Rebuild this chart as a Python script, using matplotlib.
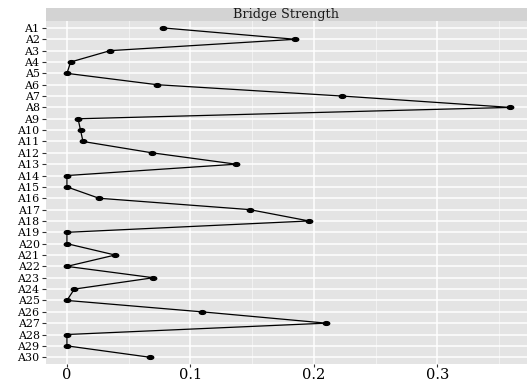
import numpy as np
import matplotlib
matplotlib.use("Agg")
import matplotlib.pyplot as plt
from matplotlib.path import Path
from matplotlib.transforms import Affine2D

labels = ["A%d" % i for i in range(1, 31)]
strength = [0.078, 0.185, 0.035, 0.003, 0.0, 0.073, 0.223, 0.359, 0.009, 0.011,
            0.013, 0.069, 0.137, 0.0, 0.0, 0.026, 0.148, 0.196, 0.0, 0.0,
            0.039, 0.0, 0.070, 0.006, 0.0, 0.109, 0.210, 0.0, 0.0, 0.067]
xticks = [0, 0.1, 0.2, 0.3]
xtick_labels = ["0", "0.1", "0.2", "0.3"]

plt.rcParams['font.family'] = ['DejaVu Serif']

fig = plt.figure(figsize=(5.28, 3.84), dpi=100)
ax = fig.add_axes([0.087, 0.052, 0.911, 0.893])
ax.set_facecolor('#e4e4e4')

ypos = np.arange(len(labels))
dot = Path.unit_circle().transformed(Affine2D().scale(1.7, 1.0))
ax.plot(strength, ypos, color='black', lw=0.9, marker=dot, ms=4.6, zorder=3)

ax.set_xlim(-0.017, 0.3725)
ax.set_ylim(len(labels) - 0.4, -0.6)
ax.set_yticks(ypos)
ax.set_yticklabels(labels, fontsize=7.9)
ax.set_xticks(xticks)
ax.set_xticklabels(xtick_labels, fontsize=10.5)
ax.set_xticks([0.05, 0.15, 0.25, 0.35], minor=True)

ax.grid(True, which='major', color='white', lw=1.1)
ax.grid(True, which='minor', axis='x', color='#f2f2f2', lw=0.7)
ax.set_axisbelow(True)
for s in ax.spines.values():
    s.set_visible(False)
ax.tick_params(axis='y', which='major', length=3, width=0.8, color='#333333', pad=1.5)
ax.tick_params(axis='x', which='major', length=2, width=0.8, color='#333333', pad=0.5)
ax.tick_params(axis='x', which='minor', length=0)

# strip title like a facet label
strip = fig.add_axes([0.087, 0.945, 0.911, 0.034])
strip.set_facecolor('#d3d3d3')
strip.set_xticks([])
strip.set_yticks([])
for s in strip.spines.values():
    s.set_visible(False)
strip.text(0.5, 0.5, "Bridge Strength", ha='center', va='center', fontsize=9.3,
           color='#1a1a1a', transform=strip.transAxes)

fig.savefig("out.png", dpi=100)
